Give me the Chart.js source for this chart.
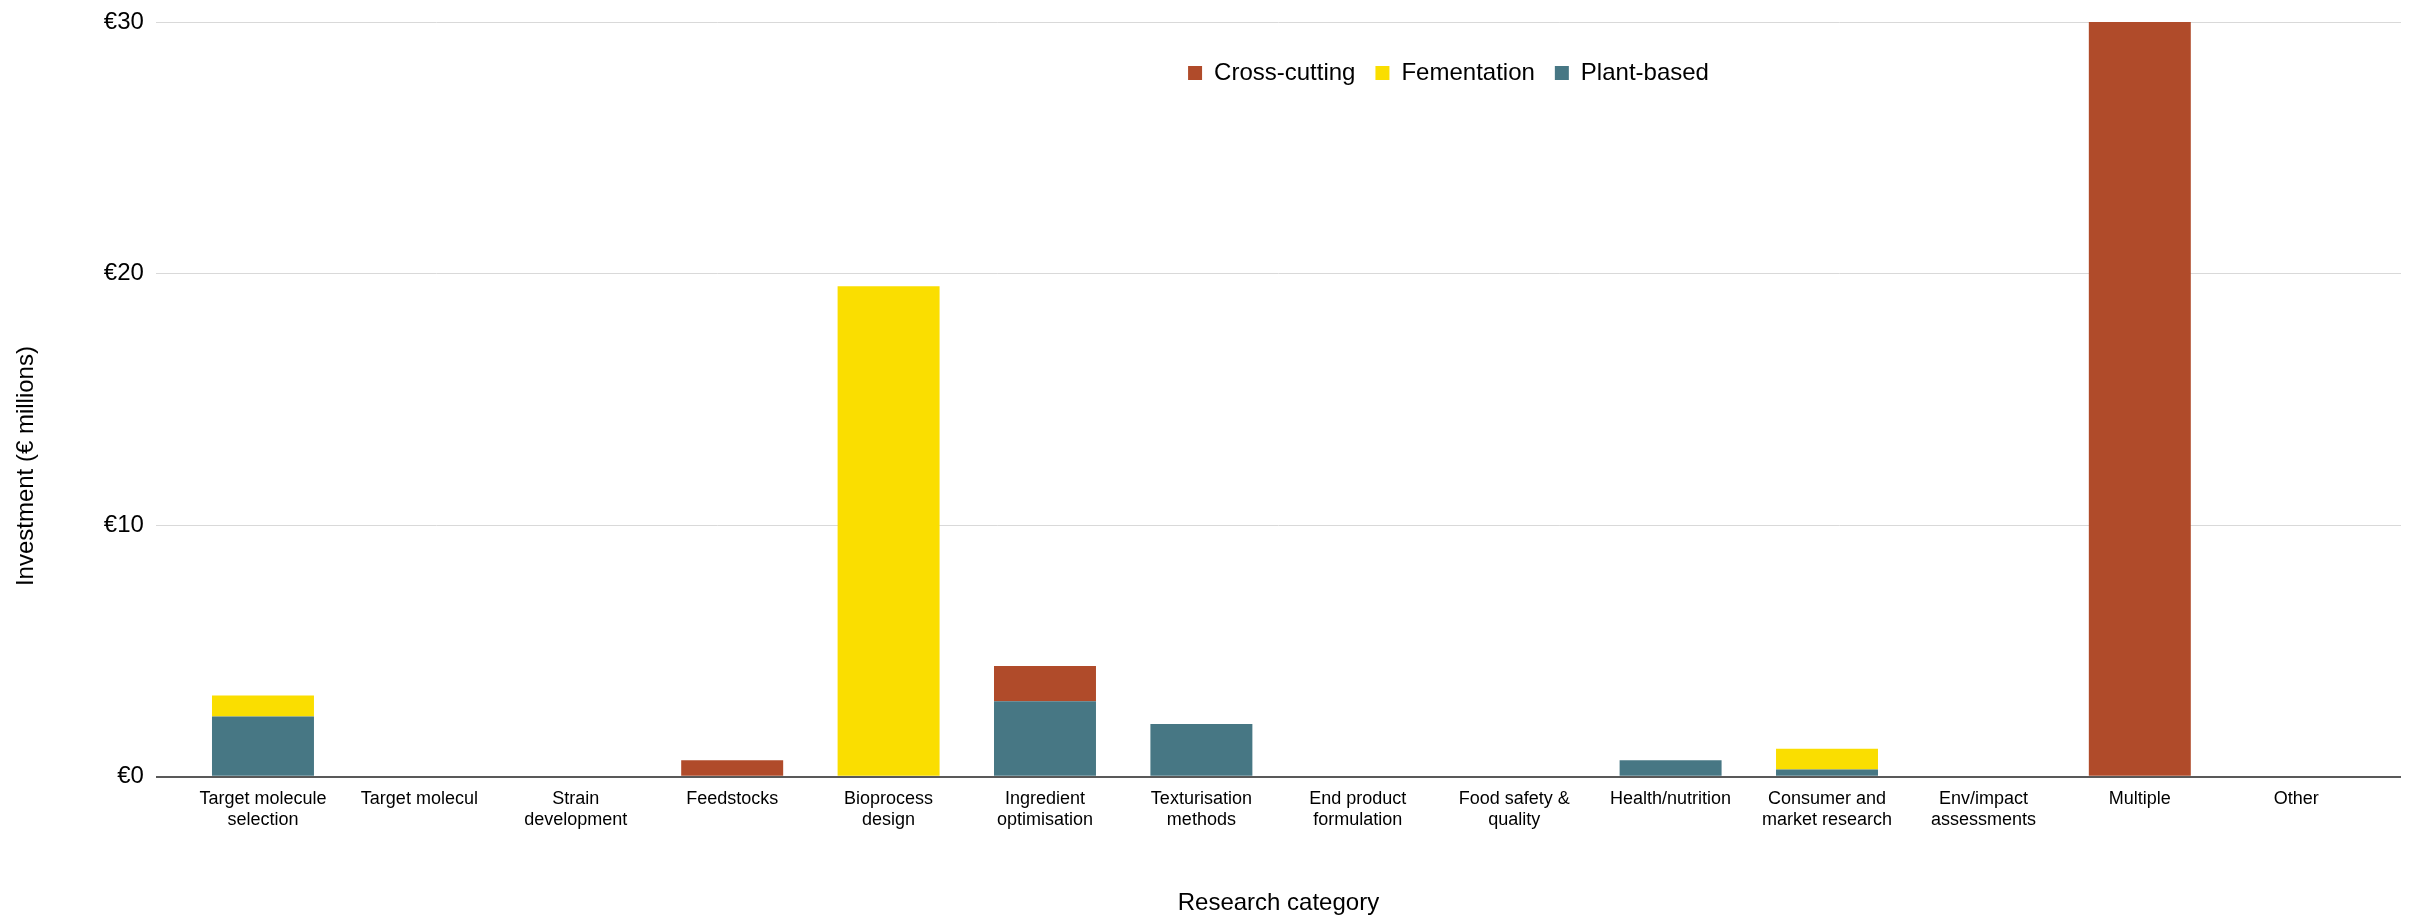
<!DOCTYPE html>
<html>
<head>
<meta charset="utf-8">
<title>Investment by research category</title>
<script src="https://cdn.jsdelivr.net/npm/chart.js@4.4.1/dist/chart.umd.min.js"></script>
<style>
  html, body { margin: 0; padding: 0; background: #fff; }
  canvas { display: block; }
</style>
</head>
<body>
<canvas id="investmentChart" width="2414" height="918"></canvas>
<script>
// categories (wrapped the way the source chart wraps them)
const categories = [
  ['Target molecule', 'selection'],
  'Target molecul',
  ['Strain', 'development'],
  'Feedstocks',
  ['Bioprocess', 'design'],
  ['Ingredient', 'optimisation'],
  ['Texturisation', 'methods'],
  ['End product', 'formulation'],
  ['Food safety &', 'quality'],
  'Health/nutrition',
  ['Consumer and', 'market research'],
  ['Env/impact', 'assessments'],
  'Multiple',
  'Other'
];

// € millions
const crossCutting = [0, 0, 0, 0.66, 0, 1.4, 0, 0, 0, 0, 0, 0, 30, 0];
const fementation  = [0.83, 0, 0, 0, 19.5, 0, 0, 0, 0, 0, 0.82, 0, 0, 0];
const plantBased   = [2.4, 0, 0, 0, 0, 3.0, 2.1, 0, 0, 0.66, 0.29, 0, 0, 0];

const yTicks = [0, 10, 20, 30];
const yTitle = 'Investment (€ millions)';
const xTitle = 'Research category';

const toPoints = values => values.map((v, i) => ({ x: i, y: v }));

Chart.defaults.font.family = '"Liberation Sans", Arial, sans-serif';
Chart.defaults.color = '#000';

// legend sits inside the plot, right of centre
const legendPlacement = {
  id: 'legendPlacement',
  afterLayout(chart) {
    const legend = chart.legend;
    const shiftX = 248;
    legend.left += shiftX;
    legend.right += shiftX;
    legend.top = 41;
    legend.height = 60;
    legend.bottom = legend.top + legend.height;
  }
};

const data = {
  datasets: [
    { label: 'Plant-based', data: toPoints(plantBased), backgroundColor: '#477784' },
    { label: 'Fementation', data: toPoints(fementation), backgroundColor: '#FADE00' },
    { label: 'Cross-cutting', data: toPoints(crossCutting), backgroundColor: '#B04B2A' }
  ]
};

const options = {
  responsive: false,
  animation: false,
  devicePixelRatio: 1,
  layout: { padding: { top: 21, right: 13, bottom: 0, left: 0 } },
  datasets: {
    bar: { categoryPercentage: 1, barPercentage: 0.652, borderWidth: 0 }
  },
  plugins: {
    legend: {
      position: 'top',
      align: 'center',
      reverse: true,
      maxHeight: 1,
      labels: {
        boxWidth: 14,
        boxHeight: 14,
        padding: 20,
        color: '#000',
        font: { size: 24 }
      }
    },
    tooltip: { enabled: false }
  },
  scales: {
    x: {
      type: 'linear',
      stacked: true,
      offset: false,
      min: -0.685,
      max: 13.67,
      afterBuildTicks: scale => { scale.ticks = categories.map((_, i) => ({ value: i })); },
      grid: { display: false, drawTicks: false, offset: false },
      border: { display: false },
      ticks: {
        autoSkip: false,
        maxRotation: 0,
        padding: 12,
        color: '#000',
        font: { size: 18, lineHeight: 1.15 },
        callback: value => categories[value]
      },
      title: {
        display: true,
        text: xTitle,
        color: '#000',
        font: { size: 24, lineHeight: 1.2 },
        padding: { top: 47, bottom: 0 }
      }
    },
    y: {
      stacked: true,
      min: 0,
      max: 30,
      afterBuildTicks: scale => { scale.ticks = yTicks.map(v => ({ value: v })); },
      grid: {
        drawTicks: false,
        color: ctx => (ctx.tick && ctx.tick.value === 0 ? '#595959' : '#D9D9D9'),
        lineWidth: ctx => (ctx.tick && ctx.tick.value === 0 ? 2 : 1)
      },
      border: { display: false },
      ticks: {
        padding: 12,
        color: '#000',
        font: { size: 24, lineHeight: 0.8 },
        callback: value => '€' + value
      },
      title: {
        display: true,
        text: yTitle + ' '.repeat(20),
        color: '#000',
        font: { size: 24, lineHeight: 1.2 },
        padding: { top: 12, bottom: 51 }
      }
    }
  }
};

new Chart(document.getElementById('investmentChart'), {
  type: 'bar',
  data,
  options,
  plugins: [legendPlacement]
});
</script>
</body>
</html>
